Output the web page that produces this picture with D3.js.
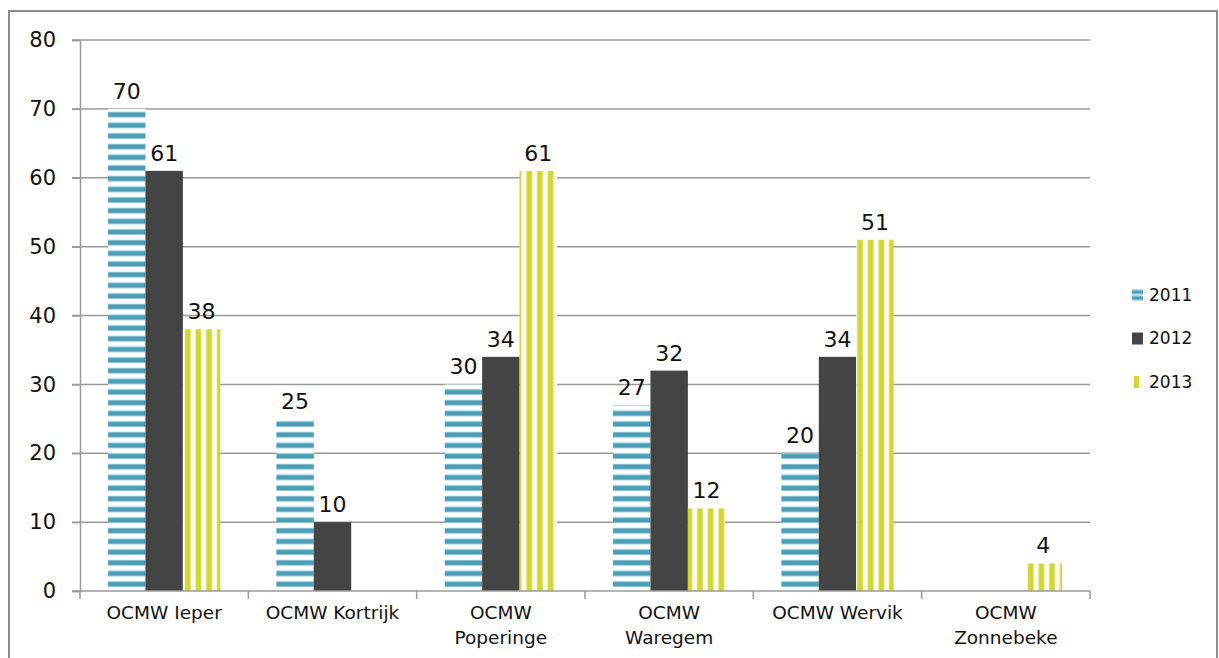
<!DOCTYPE html>
<html>
<head>
<meta charset="utf-8">
<script src="https://cdn.jsdelivr.net/npm/d3@7"></script>
<style>
  body { margin: 0; background: #fff; }
  text { font-family: "DejaVu Sans", sans-serif; fill: #111; }
</style>
</head>
<body>
<svg id="chart" width="1219" height="658"></svg>
<script>
// data
const categories = ["OCMW Ieper", "OCMW Kortrijk", "OCMW Poperinge", "OCMW Waregem", "OCMW Wervik", "OCMW Zonnebeke"];
const seriesNames = ["2011", "2012", "2013"];
const values2011 = [70, 25, 30, 27, 20, null];
const values2012 = [61, 10, 34, 32, 34, null];
const values2013 = [38, null, 61, 12, 51, 4];
const yTicks = [0, 10, 20, 30, 40, 50, 60, 70, 80];

const seriesValues = [values2011, values2012, values2013];

const svg = d3.select("#chart");
const width = 1219, height = 658;
const margin = {top: 40, left: 80, right: 129, bottom: 67};

// outer frame
svg.append("rect")
    .attr("x", 9).attr("y", 11)
    .attr("width", 1208).attr("height", 660)
    .attr("fill", "none")
    .attr("stroke", "#8c8c8c")
    .attr("stroke-width", 2);

// fill patterns
const defs = svg.append("defs");
const p1 = defs.append("pattern")
    .attr("id", "hstripe")
    .attr("patternUnits", "userSpaceOnUse")
    .attr("width", 10.67).attr("height", 10.67)
    .attr("y", 591);
p1.append("rect").attr("width", 10.67).attr("height", 10.67).attr("fill", "#ffffff");
p1.append("rect").attr("y", 0.8).attr("width", 10.67).attr("height", 6).attr("fill", "#a9d3df");
p1.append("rect").attr("y", 1.6).attr("width", 10.67).attr("height", 4.4).attr("fill", "#4a9fb7");

const p3 = defs.append("pattern")
    .attr("id", "vstripe")
    .attr("patternUnits", "userSpaceOnUse")
    .attr("width", 10.67).attr("height", 10.67)
    .attr("x", 183);
p3.append("rect").attr("width", 10.67).attr("height", 10.67).attr("fill", "#ffffff");
p3.append("rect").attr("x", 1.6).attr("width", 6.4).attr("height", 10.67).attr("fill", "#e8eb9a");
p3.append("rect").attr("x", 2.3).attr("width", 5).attr("height", 10.67).attr("fill", "#d2d72a");

const lp = defs.append("pattern")
    .attr("id", "lhs")
    .attr("patternUnits", "userSpaceOnUse")
    .attr("width", 11).attr("height", 6)
    .attr("y", 289);
lp.append("rect").attr("width", 11).attr("height", 6).attr("fill", "#b8dce6");
lp.append("rect").attr("y", 0.5).attr("width", 11).attr("height", 3).attr("fill", "#4a9fb7");

const fills = ["url(#hstripe)", "#444444", "url(#vstripe)"];
const legendFills = ["url(#lhs)", "#444444", "#d2d72a"];

const x0 = d3.scaleBand()
    .domain(categories)
    .range([margin.left, width - margin.right]);

const x1 = d3.scaleBand()
    .domain(seriesNames)
    .range([0, x0.bandwidth()])
    .paddingOuter(0.75);

const y = d3.scaleLinear()
    .domain([0, 80])
    .range([height - margin.bottom, margin.top]);

// gridlines
svg.append("g")
    .selectAll("line")
    .data(yTicks.slice(1))
    .enter().append("line")
    .attr("x1", margin.left - 8)
    .attr("x2", width - margin.right)
    .attr("y1", d => y(d))
    .attr("y2", d => y(d))
    .attr("stroke", "#9a9a9a")
    .attr("stroke-width", 1.5);

// y axis
const yAxis = svg.append("g")
    .attr("transform", "translate(" + margin.left + ",0)")
    .call(d3.axisLeft(y).tickValues(yTicks).tickSize(8).tickPadding(16));
yAxis.select(".domain").attr("stroke", "#9a9a9a").attr("stroke-width", 1.5);
yAxis.selectAll(".tick line").attr("stroke", "#9a9a9a").attr("stroke-width", 1.5);
yAxis.selectAll("text")
    .style("font-size", "21px")
    .style("font-family", "DejaVu Sans, sans-serif")
    .attr("fill", "#111");

// bars
const groups = svg.append("g")
    .selectAll("g")
    .data(seriesNames)
    .enter().append("g")
    .attr("fill", (d, i) => fills[i]);

groups.selectAll("rect")
    .data((s, i) => categories.map((c, j) => ({cat: c, series: s, value: seriesValues[i][j]})))
    .enter().filter(d => d.value !== null)
    .append("rect")
    .attr("x", d => x0(d.cat) + x1(d.series))
    .attr("width", x1.bandwidth())
    .attr("y", d => y(d.value))
    .attr("height", d => y(0) - y(d.value));

// data labels
groups.selectAll("text")
    .data((s, i) => categories.map((c, j) => ({cat: c, series: s, value: seriesValues[i][j]})))
    .enter().filter(d => d.value !== null)
    .append("text")
    .attr("x", d => x0(d.cat) + x1(d.series) + x1.bandwidth() / 2)
    .attr("y", d => y(d.value) - 10)
    .attr("text-anchor", "middle")
    .style("font-size", "22px")
    .text(d => d.value);

// x axis
const xAxis = svg.append("g")
    .attr("transform", "translate(0," + y(0) + ")");
xAxis.append("line")
    .attr("x1", margin.left - 8).attr("x2", width - margin.right)
    .attr("stroke", "#9a9a9a").attr("stroke-width", 1.5);
xAxis.selectAll(".tk")
    .data(categories.map(c => x0(c)).concat([x0.range()[1]]))
    .enter().append("line")
    .attr("x1", d => d).attr("x2", d => d)
    .attr("y1", 0).attr("y2", 8)
    .attr("stroke", "#9a9a9a").attr("stroke-width", 1.5);

// category labels, wrapped like the original
const catLabel = xAxis.selectAll(".cat")
    .data(categories)
    .enter().append("text")
    .attr("text-anchor", "middle")
    .attr("x", d => x0(d) + x0.bandwidth() / 2)
    .attr("y", 28)
    .style("font-size", "18.5px");

catLabel.each(function(d) {
  const t = d3.select(this);
  t.text(d);
  if (this.getComputedTextLength() > 148) {
    const words = d.split(" ");
    t.text(null);
    t.append("tspan").attr("x", t.attr("x")).attr("dy", 0).text(words[0]);
    t.append("tspan").attr("x", t.attr("x")).attr("dy", 25).text(words.slice(1).join(" "));
  }
});

// legend
const legend = svg.append("g")
    .selectAll("g")
    .data(seriesNames)
    .enter().append("g")
    .attr("transform", (d, i) => "translate(1132," + (295 + i * 43.5) + ")");

legend.append("rect")
    .attr("x", (d, i) => i === 2 ? 2 : 0)
    .attr("y", -6)
    .attr("width", (d, i) => i === 2 ? 5 : 11)
    .attr("height", 12)
    .attr("fill", (d, i) => legendFills[i]);

legend.append("text")
    .attr("x", 17)
    .attr("y", 0)
    .attr("dy", "0.35em")
    .style("font-size", "17px")
    .text(d => d);
</script>
</body>
</html>
